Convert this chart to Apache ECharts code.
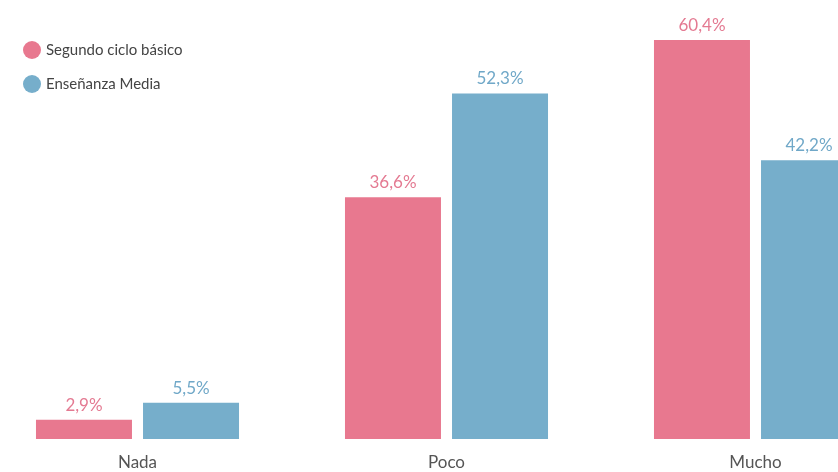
<!DOCTYPE html>
<html>
<head>
<meta charset="utf-8">
<script src="https://cdn.jsdelivr.net/npm/echarts@6/dist/echarts.min.js"></script>
<style>
  html, body { margin: 0; padding: 0; background: #fff; }
  #chart { width: 838px; height: 472px; }
</style>
</head>
<body>
<div id="chart"></div>
<script>
// categorias y valores (%)
const categories = ['Nada', 'Poco', 'Mucho']
const seriesNames = ['Segundo ciclo básico', 'Enseñanza Media']
const basica = [2.9, 36.6, 60.4]
const media = [5.5, 52.3, 42.2]

const pink = '#e8788f'
const blue = '#76aecb'

const fmt = p => String(p.value).replace('.', ',') + '%'

const chart = echarts.init(document.getElementById('chart'))
chart.setOption({
  animation: false,
  textStyle: { fontFamily: 'Lato' },
  legend: {
    orient: 'vertical',
    left: 18,
    top: 36,
    icon: 'circle',
    itemWidth: 18,
    itemHeight: 18,
    itemGap: 16,
    textStyle: { fontSize: 15, color: '#444' },
    data: seriesNames
  },
  grid: {
    left: -17,
    width: 927,
    top: 40,
    bottom: 33,
    containLabel: false,
    outerBoundsMode: 'none'
  },
  xAxis: {
    type: 'category',
    data: categories,
    axisLine: { show: false },
    axisTick: { show: false },
    axisLabel: { margin: 15, fontSize: 17, color: '#555' }
  },
  yAxis: {
    type: 'value',
    min: 0,
    max: 60.4,
    show: false,
    splitLine: { show: false }
  },
  series: [
    {
      name: seriesNames[0],
      type: 'bar',
      barWidth: 96,
      barGap: '11.5%',
      itemStyle: { color: pink },
      label: {
        show: true,
        position: 'top',
        distance: 6,
        fontSize: 17,
        color: '#e47a92',
        formatter: fmt
      },
      data: basica
    },
    {
      name: seriesNames[1],
      type: 'bar',
      barWidth: 96,
      itemStyle: { color: blue },
      label: {
        show: true,
        position: 'top',
        distance: 6,
        fontSize: 17,
        color: '#70a8c8',
        formatter: fmt
      },
      data: media
    }
  ]
})
</script>
</body>
</html>
